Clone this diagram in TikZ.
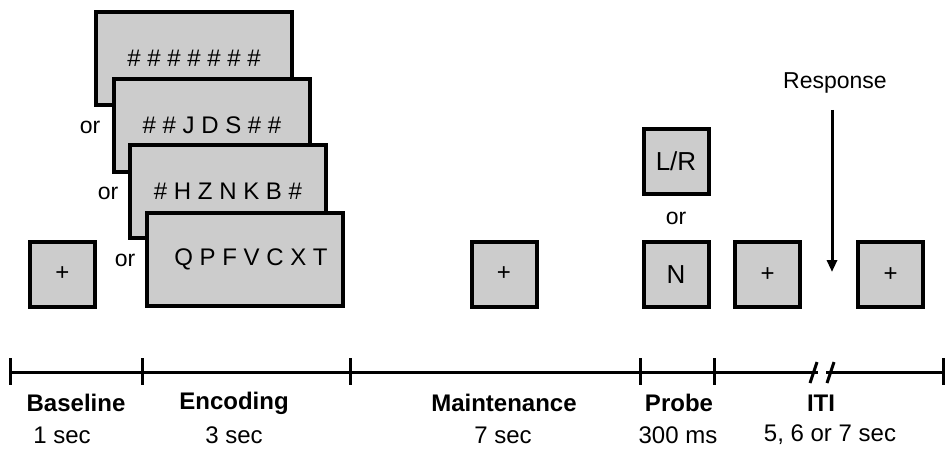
\documentclass[tikz,border=0pt]{standalone}
\usepackage{fontspec}
\setmainfont{Liberation Sans}
\usetikzlibrary{arrows.meta,positioning,calc}

\begin{document}
\begin{tikzpicture}[x=1pt, y=-1pt, node distance=10pt,
	scr/.style={rectangle, draw, line width=4pt, fill=black!20, inner sep=0pt, font=\fontsize{24}{28}\selectfont},
	bigscr/.style={scr, minimum width=196pt, minimum height=93pt},
	smallscr/.style={scr, minimum width=65pt, minimum height=65pt},
	fixtext/.style={font=\fontsize{24}{28}\selectfont},
	probetext/.style={font=\fontsize{26}{30}\selectfont},
	ortext/.style={font=\fontsize{23}{27}\selectfont},
	phase/.style={font=\fontsize{24}{28}\selectfont\bfseries},
	dur/.style={font=\fontsize{24}{28}\selectfont}]
	\useasboundingbox (0,0) rectangle (948,448);

	% encoding screens
	\node[bigscr] (s1) at (194,58) {\# \# \# \# \# \# \#};
	\node[bigscr] (s2) at (212,125) {\# \# J D S \# \#};
	\node[bigscr] (s3) at (228,191.5) {\# H Z N K B \#};
	\node[bigscr] (s4) at (245,259.5) {\hspace*{12pt}Q P F V C X T};
	\node[ortext] (or1) at (90,127) {or};
	\node[ortext] (or2) at (108,193) {or};
	\node[ortext] (or3) at (125,260) {or};

	% fixation and probe screens
	\node[smallscr, fixtext] (fix1) at (62.5,274) {+};
	\node[smallscr, fixtext] (fix2) at (504,274) {+};
	\node[smallscr, probetext] (probeN) at (676,274.5) {N};
	\node[smallscr, probetext, above=44pt of probeN] (probeLR) {L/R};
	\node[ortext] (or4) at ($(probeLR)!0.5!(probeN)$) {or};
	\node[smallscr, fixtext] (fix3) at (767.5,274.5) {+};
	\node[smallscr, fixtext] (fix4) at (890.5,274.5) {+};

	% response
	\node[ortext] (resp) at (835,83) {Response};
	\coordinate (hit) at (832,272);
	\draw[line width=3pt, -{Triangle[length=12pt,width=10pt]}] ($(resp.south)+(-3,13)$) -- (hit);

	% time line
	\coordinate (t0) at (10,372);
	\coordinate (t1) at (142,372);
	\coordinate (t2) at (350,372);
	\coordinate (t3) at (640,372);
	\coordinate (t4) at (714,372);
	\coordinate (t5) at (943,372);
	\coordinate (b1) at (818,372);
	\coordinate (b2) at (826,372);
	\draw[line width=3pt] (t0) -- (b1);
	\draw[line width=3pt] (b2) -- (t5);
	\foreach \t in {t0,t1,t2,t3,t4,t5}
		\draw[line width=3pt] ($(\t)+(0,-14)$) -- ($(\t)+(0,13)$);
	\draw[line width=3pt] ($(b1)+(-8,11)$) -- ($(b1)+(-1,-10)$);
	\draw[line width=3pt] ($(b2)+(1,11)$) -- ($(b2)+(8,-10)$);

	% phase labels
	\node[phase] (base) at (76,403) {Baseline};
	\node[phase] (enc) at (234,403) {Encoding};
	\node[phase] (maint) at (504,403) {Maintenance};
	\node[phase] (probe) at (679,403) {Probe};
	\node[phase] (iti) at (821,403) {ITI};
	\node[dur] at (62,435) {1 sec};
	\node[dur] at (234,435) {3 sec};
	\node[dur] at (503,435) {7 sec};
	\node[dur] at (678,435) {300 ms};
	\node[dur] at (830,435) {5, 6 or 7 sec};
\end{tikzpicture}
\end{document}
